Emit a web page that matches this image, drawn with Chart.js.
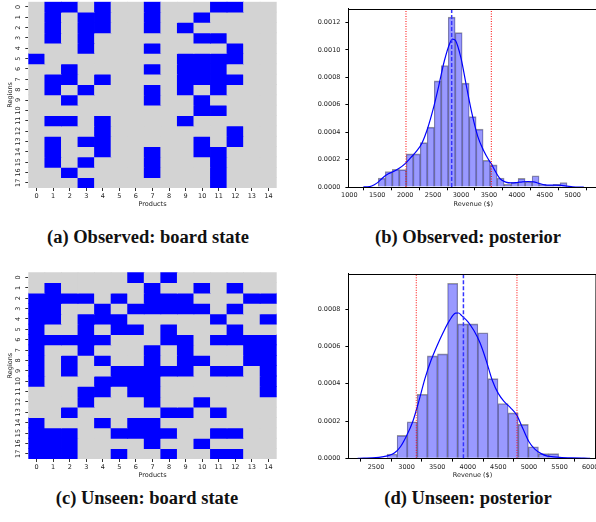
<!DOCTYPE html>
<html>
<head>
<meta charset="utf-8">
<script src="https://cdn.jsdelivr.net/npm/chart.js@4.4.1/dist/chart.umd.min.js"></script>
<style>
  html, body { margin: 0; padding: 0; background: #fff; }
  #page { position: relative; width: 596px; height: 522px; overflow: hidden; }
  canvas { position: absolute; }
  .caption {
    position: absolute;
    font-family: "Liberation Serif", serif;
    font-weight: bold;
    font-size: 18.5px;
    color: #111;
    white-space: nowrap;
    transform: translate(-50%, -50%);
  }
</style>
</head>
<body>
<div id="page">
  <canvas id="obsBoard" width="300" height="210" style="left:0;top:0"></canvas>
  <canvas id="obsPosterior" width="300" height="210" style="left:300px;top:0"></canvas>
  <canvas id="unseenBoard" width="300" height="215" style="left:0;top:265px"></canvas>
  <canvas id="unseenPosterior" width="300" height="215" style="left:300px;top:265px"></canvas>
  <div class="caption" style="left:148px;top:237px">(a) Observed: board state</div>
  <div class="caption" style="left:468px;top:237px">(b) Observed: posterior</div>
  <div class="caption" style="left:147px;top:498px">(c) Unseen: board state</div>
  <div class="caption" style="left:468px;top:498px">(d) Unseen: posterior</div>
</div>
<script>
const products = ["0", "1", "2", "3", "4", "5", "6", "7", "8", "9", "10", "11", "12", "13", "14"];
const regions = ["0", "1", "2", "3", "4", "5", "6", "7", "8", "9", "10", "11", "12", "13", "14", "15", "16", "17"];

// blue cells: product columns that are set, one list per region row
const observedCells = [
  [1, 2, 4, 7, 11, 12], [1, 3, 4, 7, 10], [1, 3, 4, 7, 9], [1, 3, 10, 11], [3, 7, 12],
  [0, 9, 10, 11, 12], [2, 7, 9, 10, 11], [1, 2, 4, 9, 10, 11, 12], [1, 3, 7, 9, 11], [2, 7, 10],
  [10, 11], [1, 2, 4, 9], [4, 12], [1, 3, 4, 10, 12], [1, 4, 7, 10, 11], [1, 3, 7, 11], [2, 7, 11], [3, 11]
];
const unseenCells = [
  [6, 8], [1, 7, 10, 12], [0, 1, 2, 3, 5, 7, 8, 9, 13, 14], [0, 1, 4, 6, 7, 8, 9, 10, 12],
  [0, 1, 3, 4, 5, 11, 14], [0, 3, 5, 6, 8, 12], [0, 1, 2, 3, 4, 8, 9, 11, 12, 13, 14],
  [0, 3, 7, 9, 13, 14], [0, 2, 4, 7, 9, 10, 13, 14], [0, 2, 5, 6, 7, 8, 9, 11, 12, 14],
  [0, 4, 5, 6, 7, 14], [3, 4, 6, 7, 14], [3, 7, 10], [2, 8, 9, 11], [0, 4, 6, 7],
  [0, 1, 2, 5, 6, 7, 8, 11, 12], [0, 1, 2, 7, 10], [0, 1, 2, 5, 8, 11, 12]
];

// observed posterior
const obsBinCenters = [1581.6, 1706.8, 1832, 1957.2, 2082.4, 2207.6, 2332.8, 2458, 2583.2, 2708.4, 2833.6, 2958.8, 3084, 3209.2,
  3334.4, 3459.6, 3584.8, 3710, 3835.2, 3960.4, 4085.6, 4210.8, 4336, 4461.2, 4586.4, 4711.6, 4836.8];
const obsDensity = [0.000065, 0.000113, 0.000129, 0.000127, 0.000242, 0.000242, 0.000324, 0.000437, 0.000775, 0.000887,
  0.00124, 0.001127, 0.000758, 0.000514, 0.000423, 0.000195, 0.000162, 0.000066, 0.00002, 0.000035, 0.000063,
  0.000038, 0.000082, 0.00002, 0.000012, 0.00002, 0.000033];
const obsKdeX = [1250, 1300, 1400, 1500, 1600, 1700, 1800, 1900, 2000, 2100, 2200, 2300, 2400, 2500, 2600, 2700, 2800, 2850,
  2900, 3000, 3100, 3200, 3300, 3400, 3500, 3550, 3600, 3700, 3800, 3900, 4000, 4100, 4200, 4300, 4400, 4500, 4600, 4700,
  4800, 4900, 5000, 5100, 5200];
const obsKdeY = [0, 0.000001, 0.000007, 0.00003, 0.000068, 0.000096, 0.000115, 0.000138, 0.000171, 0.000214, 0.00026,
  0.00032, 0.000425, 0.000566, 0.000735, 0.000918, 0.00105, 0.00108, 0.00107, 0.00094, 0.00073, 0.00053, 0.00037,
  0.00027, 0.000195, 0.000165, 0.000125, 0.00006, 0.000036, 0.00003, 0.000033, 0.000038, 0.00004, 0.000038, 0.000026,
  0.000016, 0.000014, 0.000014, 0.000012, 0.000007, 0.000002, 0, 0];
const obsInterval = [2015, 3543];
const obsMean = 2833;
const obsRevenueTicks = [1000, 1500, 2000, 2500, 3000, 3500, 4000, 4500, 5000];
const obsDensityTicks = [0, 0.0002, 0.0004, 0.0006, 0.0008, 0.001, 0.0012];

// unseen posterior
const unseenBinCenters = [2762.5, 2927.5, 3092.5, 3257.5, 3422.5, 3587.5, 3752.5, 3917.5, 4082.5, 4247.5, 4412.5, 4577.5,
  4742.5, 4907.5, 5072.5, 5237.5, 5402.5];
const unseenDensity = [0.000023, 0.000123, 0.000196, 0.000344, 0.00055, 0.000561, 0.00094, 0.000722, 0.000722, 0.000674,
  0.000428, 0.000294, 0.000244, 0.000182, 0.000062, 0.000025, 0.000025];
const unseenKdeX = [2200, 2300, 2500, 2600, 2700, 2800, 2900, 3000, 3100, 3200, 3300, 3400, 3500, 3600, 3700, 3800, 3850,
  3900, 4000, 4100, 4200, 4300, 4400, 4500, 4600, 4700, 4800, 4900, 5000, 5100, 5200, 5300, 5400, 5500, 5700, 5900, 6000];
const unseenKdeY = [0, 0.000001, 0.000004, 0.000008, 0.000014, 0.000028, 0.000062, 0.000121, 0.000196, 0.000306, 0.000428,
  0.000526, 0.000606, 0.000677, 0.000739, 0.000779, 0.00078, 0.000766, 0.000734, 0.000686, 0.00062, 0.000526, 0.000419,
  0.000347, 0.000303, 0.000271, 0.000232, 0.00016, 0.000089, 0.000048, 0.000025, 0.000012, 0.000008, 0.000005, 0.000002,
  0.0000005, 0];
const unseenInterval = [3158, 4804];
const unseenMean = 3929;
const unseenRevenueTicks = [2500, 3000, 3500, 4000, 4500, 5000, 5500, 6000];
const unseenDensityTicks = [0, 0.0002, 0.0004, 0.0006, 0.0008];

const CELL_ON = "#0000ff";
const CELL_OFF = "#d3d3d3";
const TEXT = "#222";
const axisFont = { family: "DejaVu Sans", size: 6.5 };

const rowLabelsPlugin = {
  id: "rowLabels",
  afterDraw(chart) {
    const { ctx } = chart;
    const yScale = chart.scales.y;
    ctx.save();
    ctx.font = "6.5px 'DejaVu Sans'";
    ctx.fillStyle = TEXT;
    ctx.textAlign = "center";
    ctx.textBaseline = "middle";
    regions.forEach((label, i) => {
      ctx.save();
      ctx.translate(18.5, yScale.getPixelForValue(i));
      ctx.rotate(-Math.PI / 2);
      ctx.fillText(label, 0, 0);
      ctx.restore();
    });
    ctx.restore();
  }
};

const framePlugin = {
  id: "frame",
  afterDatasetsDraw(chart) {
    const { ctx, chartArea } = chart;
    ctx.save();
    ctx.strokeStyle = "#000";
    ctx.lineWidth = 1;
    ctx.beginPath();
    const top = Math.round(chartArea.top) + 0.5;
    ctx.moveTo(Math.round(chartArea.left), top);
    ctx.lineTo(Math.round(chartArea.right), top);
    ctx.lineTo(Math.round(chartArea.right) - 0.5, Math.round(chartArea.bottom));
    ctx.stroke();
    ctx.restore();
  }
};

function boardChart(canvasId, cells, topPad, xHeight, titlePad) {
  const datasets = regions.map((label, r) => ({
    label: `Region ${label}`,
    data: products.map(() => [r - 0.5, r + 0.5]),
    backgroundColor: products.map((p, c) => (cells[r].includes(c) ? CELL_ON : CELL_OFF)),
    borderWidth: 0,
    inflateAmount: 0.4,
    grouped: false,
    barPercentage: 1,
    categoryPercentage: 1
  }));

  return new Chart(document.getElementById(canvasId), {
    type: "bar",
    data: { labels: products, datasets },
    options: {
      responsive: false,
      animation: false,
      layout: { padding: { top: topPad, right: 23.3, left: 0, bottom: 0 } },
      plugins: { legend: { display: false }, tooltip: { enabled: false } },
      scales: {
        x: {
          type: "category",
          offset: true,
          grid: { display: true, offset: false, drawOnChartArea: false, drawTicks: true, tickLength: 3, color: "#333" },
          border: { display: false },
          ticks: { font: axisFont, color: TEXT, padding: 1, maxRotation: 0, autoSkip: false },
          title: { display: true, text: "Products", font: axisFont, color: TEXT, padding: { top: 0, bottom: titlePad } },
          afterFit: (scale) => { scale.height = xHeight; }
        },
        y: {
          type: "linear",
          reverse: true,
          min: -0.5,
          max: regions.length - 0.5,
          afterBuildTicks: (scale) => { scale.ticks = regions.map((_, i) => ({ value: i })); },
          grid: { display: true, drawOnChartArea: false, drawTicks: true, tickLength: 3, color: "#333" },
          border: { display: false },
          ticks: { display: false },
          title: { display: true, text: "Regions", font: axisFont, color: TEXT, padding: { top: 6, bottom: 0 } },
          afterFit: (scale) => { scale.width = 28.3; }
        }
      }
    },
    plugins: [rowLabelsPlugin]
  });
}

function posteriorChart(canvasId, spec) {
  const yMax = spec.yMax;
  const vline = (x, color, dash, width) => ({
    type: "line",
    data: [{ x, y: 0 }, { x, y: yMax }],
    borderColor: color,
    borderDash: dash,
    borderWidth: width,
    pointRadius: 0,
    order: 1
  });

  return new Chart(document.getElementById(canvasId), {
    type: "bar",
    data: {
      datasets: [
        {
          type: "bar",
          data: spec.centers.map((c, i) => ({ x: c, y: spec.density[i] })),
          backgroundColor: "rgba(0, 0, 255, 0.4)",
          borderColor: "rgba(0, 0, 0, 0.4)",
          borderWidth: { top: 1, left: 0.6, right: 0.6, bottom: 0 },
          borderSkipped: false,
          barPercentage: 1,
          categoryPercentage: 1,
          order: 3
        },
        {
          type: "line",
          data: spec.kdeX.map((x, i) => ({ x, y: spec.kdeY[i] })),
          borderColor: "#0000ff",
          borderWidth: 1.2,
          pointRadius: 0,
          cubicInterpolationMode: "monotone",
          order: 2
        },
        vline(spec.interval[0], "#ff0000", [1, 1.5], 1),
        vline(spec.interval[1], "#ff0000", [1, 1.5], 1),
        vline(spec.mean, "#3434ff", [4, 2], 1.5)
      ]
    },
    options: {
      responsive: false,
      animation: false,
      layout: { padding: { top: spec.topPad, right: spec.rightPad, left: 0, bottom: 0 } },
      plugins: { legend: { display: false }, tooltip: { enabled: false } },
      scales: {
        x: {
          type: "linear",
          offset: false,
          min: spec.xMin,
          max: spec.xMax,
          afterBuildTicks: (scale) => { scale.ticks = spec.xTicks.map((value) => ({ value })); },
          grid: { display: true, drawOnChartArea: false, drawTicks: true, tickLength: 3.3, color: "#000" },
          border: { display: true, color: "#000", width: 1 },
          ticks: { font: axisFont, color: TEXT, padding: 1.5, maxRotation: 0, autoSkip: false, callback: (v) => String(v) },
          title: { display: true, text: "Revenue ($)", font: axisFont, color: TEXT, padding: { top: 0, bottom: spec.titlePad } },
          afterFit: (scale) => { scale.height = spec.xHeight; }
        },
        y: {
          type: "linear",
          min: 0,
          max: yMax,
          afterBuildTicks: (scale) => { scale.ticks = spec.yTicks.map((value) => ({ value })); },
          grid: { display: true, drawOnChartArea: false, drawTicks: true, tickLength: 3.3, color: "#000" },
          border: { display: true, color: "#000", width: 1 },
          ticks: { font: axisFont, color: TEXT, padding: 5, callback: (v) => v.toFixed(4) },
          afterFit: (scale) => { scale.width = 48.7; }
        }
      }
    },
    plugins: [framePlugin]
  });
}

boardChart("obsBoard", observedCells, 1.7, 22, 2.1);
boardChart("unseenBoard", unseenCells, 7.3, 21, 1.1);

posteriorChart("obsPosterior", {
  centers: obsBinCenters, density: obsDensity, kdeX: obsKdeX, kdeY: obsKdeY,
  interval: obsInterval, mean: obsMean, xTicks: obsRevenueTicks, yTicks: obsDensityTicks,
  xMin: 989, xMax: 5450, yMax: 0.0013, topPad: 2.7, rightPad: 2.2, xHeight: 23, titlePad: 2.1
});

posteriorChart("unseenPosterior", {
  centers: unseenBinCenters, density: unseenDensity, kdeX: unseenKdeX, kdeY: unseenKdeY,
  interval: unseenInterval, mean: unseenMean, xTicks: unseenRevenueTicks, yTicks: unseenDensityTicks,
  xMin: 2054, xMax: 6100, yMax: 0.00099, topPad: 8.3, rightPad: 3.2, xHeight: 21.7, titlePad: 1.1
});
</script>
</body>
</html>
